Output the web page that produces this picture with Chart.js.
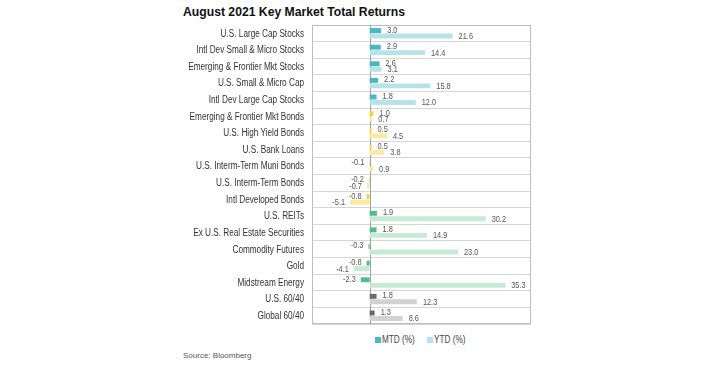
<!DOCTYPE html>
<html>
<head>
<meta charset="utf-8">
<script src="https://cdn.jsdelivr.net/npm/chart.js@4.4.0/dist/chart.umd.min.js"></script>
<style>
  html, body { margin:0; padding:0; background:#fff; width:721px; height:373px; overflow:hidden; }
  #title { position:absolute; left:183px; top:5px; font:bold 12.2px "Liberation Sans", Arial, sans-serif; color:#111; white-space:nowrap; }
  #wrap { position:absolute; left:170px; top:23px; width:362px; height:303px; }
  .lg { position:absolute; top:334px; font:10px "Liberation Sans", Arial, sans-serif; color:#444; white-space:nowrap; }
  .lg .box { position:absolute; left:0; top:3px; width:6px; height:6px; }
  .lg .txt { position:absolute; left:7px; top:0; transform:scaleX(0.82); transform-origin:0 0; }
  #source { position:absolute; left:183px; top:351px; font:8px "Liberation Sans", Arial, sans-serif; color:#555; }
</style>
</head>
<body>
<div id="title">August 2021 Key Market Total Returns</div>
<div id="wrap"><canvas id="chart"></canvas></div>
<div id="legend"></div>
<div id="source">Source: Bloomberg</div>
<script>
// categories and values (%)
const categories = [
  'U.S. Large Cap Stocks', 'Intl Dev Small & Micro Stocks', 'Emerging & Frontier Mkt Stocks',
  'U.S. Small & Micro Cap', 'Intl Dev Large Cap Stocks', 'Emerging & Frontier Mkt Bonds',
  'U.S. High Yield Bonds', 'U.S. Bank Loans', 'U.S. Interm-Term Muni Bonds',
  'U.S. Interm-Term Bonds', 'Intl Developed Bonds', 'U.S. REITs',
  'Ex U.S. Real Estate Securities', 'Commodity Futures', 'Gold', 'Midstream Energy',
  'U.S. 60/40', 'Global 60/40'
];
const mtdValues = [3.0, 2.9, 2.6, 2.2, 1.8, 1.0, 0.5, 0.5, -0.1, -0.2, -0.8, 1.9, 1.8, -0.3, -0.8, -2.3, 1.8, 1.3];
const ytdValues = [21.6, 14.4, 3.1, 15.8, 12.0, 0.7, 4.5, 3.8, 0.9, -0.7, -5.1, 30.2, 14.9, 23.0, -4.1, 35.3, 12.3, 8.6];
const assetGroups = ['equity','equity','equity','equity','equity','bond','bond','bond','bond','bond','bond',
  'real','real','real','real','real','blend','blend'];
const seriesNames = ['MTD (%)', 'YTD (%)'];

// colours per group
const groupColors = {
  equity: { mtd:'#4cb6c2', ytd:'#b6e3e9' },
  bond:   { mtd:'#f3d04a', ytd:'#fbe9a2' },
  real:   { mtd:'#55bb8c', ytd:'#c6ead6' },
  blend:  { mtd:'#6a6a6a', ytd:'#d2d2d2' }
};

const baseFont = '"Liberation Sans", Arial, sans-serif';
const squeeze = 0.82; // narrow look of the original type

function narrowText(ctx, text, x, y, align) {
  ctx.save();
  ctx.translate(x, y);
  ctx.scale(squeeze, 1);
  ctx.textAlign = align;
  ctx.fillText(text, 0, 0);
  ctx.restore();
}

// category names, placed on the y scale's ticks
const categoryLabels = {
  id:'categoryLabels',
  afterDraw(chart){
    const ctx = chart.ctx, y = chart.scales.y;
    ctx.save();
    ctx.font = '10px ' + baseFont;
    ctx.fillStyle = '#333';
    ctx.textBaseline = 'middle';
    chart.data.labels.forEach((lab, i) => narrowText(ctx, lab, y.right - 8, y.getPixelForTick(i) + 0.5, 'right'));
    ctx.restore();
  }
};

// value labels next to each bar end
const valueLabels = {
  id:'valueLabels',
  afterDatasetsDraw(chart){
    const ctx = chart.ctx;
    ctx.save();
    ctx.font = '9px ' + baseFont;
    ctx.fillStyle = '#555';
    ctx.textBaseline = 'middle';
    chart.data.datasets.forEach((ds, di) => {
      chart.getDatasetMeta(di).data.forEach((bar, i) => {
        const v = ds.data[i];
        const dy = di === 0 ? -0.5 : 0.5;
        if (v >= 0) narrowText(ctx, v.toFixed(1), bar.x + 6, bar.y + dy, 'left');
        else narrowText(ctx, v.toFixed(1), bar.x - 5, bar.y + dy, 'right');
      });
    });
    ctx.restore();
  }
};

// frame and zero line
const frame = {
  id:'frame',
  beforeDatasetsDraw(chart){
    const {ctx, chartArea:a, scales} = chart;
    ctx.save();
    ctx.strokeStyle = '#bdbdbd';
    ctx.lineWidth = 1;
    ctx.strokeRect(Math.round(a.left)+0.5, Math.round(a.top)+0.5, Math.round(a.right-a.left)-1, Math.round(a.bottom-a.top)-1);
    const x0 = Math.round(scales.x.getPixelForValue(0)) + 0.5;
    ctx.strokeStyle = '#9aa59f';
    ctx.beginPath();
    ctx.moveTo(x0, a.top);
    ctx.lineTo(x0, a.bottom);
    ctx.stroke();
    ctx.restore();
  }
};

const ctx = document.getElementById('chart').getContext('2d');
new Chart(ctx, {
  type:'bar',
  data:{
    labels: categories,
    datasets:[
      { label: seriesNames[0], data: mtdValues, backgroundColor: assetGroups.map(g => groupColors[g].mtd) },
      { label: seriesNames[1], data: ytdValues, backgroundColor: assetGroups.map(g => groupColors[g].ytd) }
    ]
  },
  options:{
    indexAxis:'y',
    responsive:true,
    maintainAspectRatio:false,
    animation:false,
    categoryPercentage:0.66,
    barPercentage:0.9,
    layout:{ padding:{ top:2, right:1, bottom:2, left:0 } },
    plugins:{ legend:{ display:false }, tooltip:{ enabled:false } },
    scales:{
      x:{ display:false, min:-15, max:42 },
      y:{
        afterFit: s => { s.width = 142; s.paddingTop = 0; s.paddingBottom = 0; },
        border:{ display:false },
        grid:{ offset:true, color:'#d6d6d6', drawTicks:false },
        ticks:{ display:false }
      }
    }
  },
  plugins:[frame, valueLabels, categoryLabels]
});

// legend
document.getElementById('legend').innerHTML = seriesNames.map((n, i) =>
  `<div class="lg" style="left:${375 + i * 52}px"><span class="box" style="background:${i ? groupColors.equity.ytd : groupColors.equity.mtd}"></span><span class="txt">${n}</span></div>`
).join('');
</script>
</body>
</html>
